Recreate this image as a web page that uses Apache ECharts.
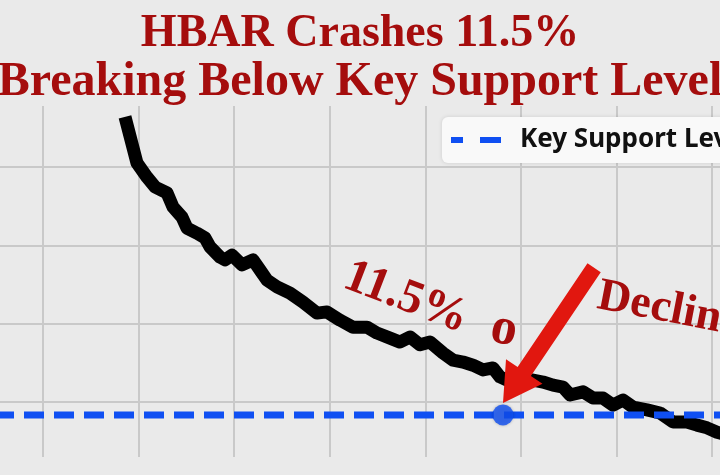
<!DOCTYPE html>
<html>
<head>
<meta charset="utf-8">
<script src="https://cdn.jsdelivr.net/npm/echarts@6/dist/echarts.min.js"></script>
<style>
  html, body { margin: 0; padding: 0; background: #eaeaea; }
  #chart { width: 720px; height: 475px; }
</style>
</head>
<body>
<div id="chart"></div>
<script>
  // time steps along the move, and HBAR price (USD)
  const timeSteps = [0, 1.2, 2.2, 3.0, 4.2, 4.8, 5.7, 6.2, 7.2, 8.0, 8.5, 9.5, 10.0, 10.7, 11.7, 12.8, 13.5, 14.2,
    15.2, 16.5, 17.8, 19.2, 20.2, 21.5, 22.8, 24.2, 25.2, 26.5, 27.5, 28.5, 29.5, 30.5, 31.8, 32.8, 33.8, 34.8,
    35.8, 36.8, 37.5, 38.2, 39.5, 40.8, 41.8, 42.8, 43.8, 44.5, 45.8, 46.8, 47.8, 48.8, 49.8, 50.8, 52.2, 53.5,
    54.8, 56.2, 57.2, 58.2, 59.2, 60.2]
  const prices = [0.2728, 0.2610, 0.2574, 0.2549, 0.2534, 0.2498, 0.2472, 0.2444, 0.2431, 0.2419, 0.2396, 0.2370,
    0.2363, 0.2375, 0.2350, 0.2363, 0.2337, 0.2311, 0.2294, 0.2278, 0.2255, 0.2227, 0.2230, 0.2209, 0.2191,
    0.2191, 0.2176, 0.2163, 0.2153, 0.2166, 0.2146, 0.2153, 0.2125, 0.2107, 0.2102, 0.2094, 0.2082, 0.2087,
    0.2064, 0.2056, 0.2054, 0.2056, 0.2051, 0.2043, 0.2038, 0.2018, 0.2026, 0.2010, 0.2010, 0.1992, 0.2005,
    0.1987, 0.1980, 0.1972, 0.1949, 0.1949, 0.1941, 0.1934, 0.1923, 0.1916]
  const supportLevel = 0.1967
  const breakStep = 37.8
  const priceTicks = [0.20, 0.22, 0.24, 0.26]

  const titleLines = ['HBAR Crashes 11.5%', 'Breaking Below Key Support Level']
  const legendName = 'Key Support Level'

  const red = '#a50d0d'
  const blue = '#0f4ff2'

  const myChart = echarts.init(document.getElementById('chart'))

  const option = {
    backgroundColor: '#eaeaea',
    animation: false,
    title: [{
      text: titleLines[0],
      left: 'center',
      top: 6,
      textStyle: { color: red, fontFamily: 'Liberation Serif', fontWeight: 'bold', fontSize: 46 }
    }, {
      text: titleLines[1],
      left: 'center',
      top: 54,
      textStyle: { color: red, fontFamily: 'Liberation Serif', fontWeight: 'bold', fontSize: 48 }
    }],
    legend: {
      data: [{ name: legendName, icon: 'path://M0,0h12v6h-12z M29,0h21v6h-21z' }],
      left: 442,
      top: 117,
      padding: [10, 12, 10, 9],
      itemWidth: 50,
      itemHeight: 6,
      backgroundColor: '#f9f9f9',
      borderRadius: 6,
      shadowBlur: 4,
      shadowColor: 'rgba(0,0,0,0.12)',
      textStyle: {
        color: '#111',
        fontFamily: 'Noto Sans',
        fontWeight: 'bold',
        fontSize: 26,
        lineHeight: 26,
        padding: [0, 0, 0, 14]
      }
    },
    grid: [
      // vertical grid lines
      { left: 43, right: 8, top: 106, bottom: 18 },
      // price area
      { left: 0, right: 0, top: 167, bottom: 73 }
    ],
    xAxis: [{
      gridIndex: 0,
      type: 'value',
      min: 0,
      max: 7,
      interval: 1,
      axisLine: { show: false },
      axisTick: { show: false },
      axisLabel: { show: false },
      splitLine: { show: true, lineStyle: { color: '#c9c9c9', width: 2 } }
    }, {
      gridIndex: 1,
      type: 'value',
      min: -12.5,
      max: 59.5,
      show: false
    }],
    yAxis: [{
      gridIndex: 0,
      type: 'value',
      show: false
    }, {
      gridIndex: 1,
      type: 'value',
      min: priceTicks[0],
      max: priceTicks[priceTicks.length - 1],
      interval: 0.02,
      axisLine: { show: false },
      axisTick: { show: false },
      axisLabel: { show: false },
      splitLine: { show: true, lineStyle: { color: '#c9c9c9', width: 2 } }
    }],
    series: [{
      name: 'HBAR',
      type: 'line',
      xAxisIndex: 1,
      yAxisIndex: 1,
      clip: false,
      symbol: 'none',
      z: 3,
      lineStyle: { color: '#000', width: 13, cap: 'butt', join: 'round' },
      data: timeSteps.map((t, i) => [t, prices[i]])
    }, {
      name: legendName,
      type: 'line',
      xAxisIndex: 1,
      yAxisIndex: 1,
      clip: false,
      symbol: 'none',
      z: 4,
      itemStyle: { color: blue },
      lineStyle: { color: blue, width: 7, type: [20, 10], dashOffset: 6 },
      data: [[-12.5, supportLevel], [59.5, supportLevel]]
    }, {
      name: 'Breakdown',
      type: 'scatter',
      xAxisIndex: 1,
      yAxisIndex: 1,
      clip: false,
      symbolSize: 21,
      z: 5,
      itemStyle: { color: blue, shadowBlur: 3, shadowColor: 'rgba(0,0,0,0.3)' },
      data: [[breakStep, supportLevel]]
    }]
  }

  myChart.setOption(option)

  // arrow pointing at the breakdown point
  const tip0 = myChart.convertToPixel({ seriesIndex: 2 }, [breakStep, supportLevel])
  const tip = [tip0[0], tip0[1] - 12]
  const ux = -0.559, uy = 0.829
  const nx = 0.829, ny = 0.559
  const tail = [tip[0] - ux * 163, tip[1] - uy * 163]
  const base = [tip[0] - ux * 38, tip[1] - uy * 38]
  const sw = 8, hw = 22
  const arrowPts = [
    [tail[0] + nx * sw, tail[1] + ny * sw],
    [base[0] + nx * sw, base[1] + ny * sw],
    [base[0] + nx * hw, base[1] + ny * hw],
    tip,
    [base[0] - nx * hw, base[1] - ny * hw],
    [base[0] - nx * sw, base[1] - ny * sw],
    [tail[0] - nx * sw, tail[1] - ny * sw]
  ]

  const annoFont = { fill: red, fontFamily: 'Liberation Serif', fontWeight: 'bold' }

  myChart.setOption({
    graphic: [{
      type: 'polygon',
      z: 10,
      shape: { points: arrowPts },
      style: { fill: '#e1170f' }
    }, {
      type: 'text',
      z: 10,
      x: 406, y: 298,
      rotation: -21 * Math.PI / 180,
      style: Object.assign({ text: '11.5%', fontSize: 48, align: 'center', verticalAlign: 'middle' }, annoFont)
    }, {
      type: 'text',
      z: 10,
      x: 504, y: 330,
      rotation: -12 * Math.PI / 180,
      style: Object.assign({ text: 'o', fontSize: 52, align: 'center', verticalAlign: 'middle' }, annoFont)
    }, {
      type: 'text',
      z: 10,
      x: 598, y: 296,
      rotation: -11 * Math.PI / 180,
      style: Object.assign({ text: 'Decline', fontSize: 46, align: 'left', verticalAlign: 'middle' }, annoFont)
    }]
  })
</script>
</body>
</html>
